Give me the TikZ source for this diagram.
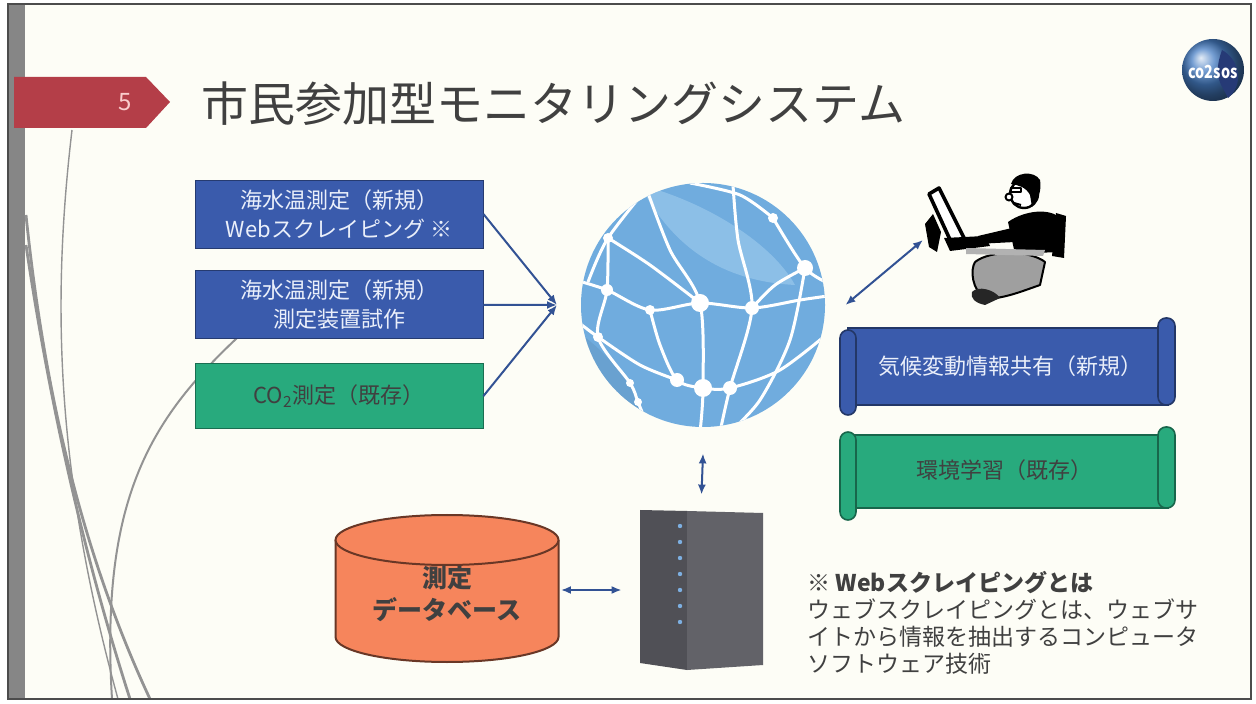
\documentclass[tikz,border=0pt]{standalone}
\usepackage{fontspec}
\setmainfont{Noto Sans CJK JP}
\usepackage{xcolor}
\usepackage{tikz}
\usetikzlibrary{arrows.meta, positioning, calc}

\definecolor{boxblue}{RGB}{58,91,172}
\definecolor{boxgreen}{RGB}{40,170,125}
\definecolor{tabred}{RGB}{180,62,72}
\definecolor{numpink}{RGB}{250,205,205}
\definecolor{inkgray}{RGB}{64,64,64}
\definecolor{paletext}{RGB}{234,239,250}
\definecolor{linknavy}{RGB}{50,82,148}
\definecolor{dbfill}{RGB}{246,133,92}
\definecolor{dbline}{RGB}{105,55,38}
\definecolor{globefill}{RGB}{112,172,222}
\definecolor{globelight}{RGB}{160,205,238}
\definecolor{logoblue}{RGB}{70,125,195}
\definecolor{landnavy}{RGB}{38,58,118}
\definecolor{ledblue}{RGB}{125,175,225}
\definecolor{paper}{RGB}{253,253,246}
\definecolor{srvfront}{RGB}{80,80,86}
\definecolor{srvside}{RGB}{98,98,104}

\begin{document}
\begin{tikzpicture}[
        x=0.5pt, y=-0.5pt,
        srcbox/.style={rectangle, draw=#1!65!black, fill=#1, minimum width=144pt, minimum height=34pt, inner sep=0pt, align=center, font=\fontsize{11}{14.5}\selectfont},
        link/.style={-{Latex[length=5pt, width=4pt]}, linknavy, line width=1pt},
        duplex/.style={{Latex[length=5pt, width=4pt]}-{Latex[length=5pt, width=4pt]}, linknavy, line width=1pt},
        scroll/.style={fill=#1, draw=#1!60!black, line width=0.8pt},
        deco/.style={draw=gray!85, line width=1.4pt},
        mesh/.style={white, line width=1.5pt}
    ]

    % Page
    \fill[white] (0,0) rectangle (1256,704);
    \useasboundingbox (0,0) rectangle (1256,704);
    \fill[paper] (8,4) rectangle (1251,699);
    \fill[gray!95] (8,4) rectangle (25,699);
    \draw[deco] (26,215) .. controls (45,400) and (85,560) .. (150,699);
    \draw[deco] (26,245) .. controls (55,440) and (95,590) .. (130,699);
    \draw[deco, line width=0.7pt] (72,130) .. controls (52,300) and (55,470) .. (118,699);
    \draw[deco, line width=1pt] (237,338) .. controls (150,420) and (100,500) .. (112,699);
    \draw[black!70, line width=1.2pt] (8,4) rectangle (1251,699);

    % Header
    \fill[tabred] (14,77) -- (146,77) -- (170,102) -- (146,128) -- (14,128) -- cycle;
    \node[text=numpink, font=\fontsize{12}{12}\selectfont] (num) at (125,102) {5};
    \node[anchor=west, inner sep=0pt, text=inkgray, font=\fontsize{23.5}{26}\selectfont] (title) at (201,104) {市民参加型モニタリングシステム};
    \shade[ball color=logoblue] (1213,70) circle[radius=31];
    \fill[landnavy] (1222,50) .. controls (1240,60) and (1244,85) .. (1228,98) .. controls (1222,85) and (1212,78) .. (1222,50);
    \node[text=white, font=\fontsize{9}{9}\selectfont\bfseries] (logo) at (1213,72) {\scalebox{0.8}[1]{co2sos}};

    % Sources
    \node[srcbox=boxblue, text=paletext] (sst) at (339,214) {海水温測定（新規）\\Webスクレイピング ※};
    \node[srcbox=boxblue, text=paletext, below=11pt of sst] (sdev) {海水温測定（新規）\\測定装置試作};
    \node[srcbox=boxgreen, text=inkgray, minimum height=32.5pt, below=12pt of sdev] (co2) {CO\textsubscript{2}測定（既存）};
    \coordinate (hub) at (557,305);

    % Network globe
    \node[circle, fill=globefill, minimum size=122pt, inner sep=0pt] (net) at (703,305) {};
    \begin{scope}
        \clip (703,305) circle[radius=122];
        \fill[globelight, opacity=0.6] (640,185) .. controls (700,200) and (770,240) .. (795,285) .. controls (740,282) and (680,262) .. (640,185);
        \fill[globefill!80!black, opacity=0.3] (575,330) .. controls (620,360) and (660,420) .. (640,440) -- (560,440) -- cycle;
        \draw[mesh] plot[smooth] coordinates {(575,280) (607,290) (650,310) (700,303) (752,308) (800,300) (835,295)};
        \draw[mesh] plot[smooth] coordinates {(608,238) (650,265) (700,303)};
        \draw[mesh] plot[smooth] coordinates {(652,182) (608,238) (588,282)};
        \draw[mesh] plot[smooth] coordinates {(647,190) (670,250) (700,303) (703,388) (700,432)};
        \draw[mesh] plot[smooth] coordinates {(733,185) (738,240) (752,308) (730,388) (720,432)};
        \draw[mesh] plot[smooth] coordinates {(773,218) (805,268) (832,285)};
        \draw[mesh] plot[smooth] coordinates {(752,308) (775,285) (805,268)};
        \draw[mesh] plot[smooth] coordinates {(608,238) (607,290) (598,337) (630,383) (638,402) (650,432)};
        \draw[mesh] plot[smooth] coordinates {(650,310) (660,345) (677,380) (703,388) (730,388) (780,370) (832,330)};
        \draw[mesh] plot[smooth] coordinates {(578,322) (598,337) (640,365) (677,380)};
        \draw[mesh] plot[smooth] coordinates {(805,268) (790,340) (760,400) (730,432)};
        \draw[mesh] plot[smooth] coordinates {(690,183) (740,195) (773,218)};
    \end{scope}
    \foreach \px/\py/\r in {608/238/5, 773/218/5, 805/268/8, 607/290/6, 650/310/5, 700/303/9,
                            752/308/7, 598/337/5, 677/380/7, 703/388/9, 730/388/7, 630/383/4, 638/402/4}
        \fill[white] (\px,\py) circle[radius=\r];

    % User at the terminal
    \begin{scope}[line join=round]
        \fill[black] (925,224) -- (933,214) -- (941,232) -- (937,252) -- (929,247) -- cycle;
        \draw[black, fill=white, line width=1.8pt] (929,194) -- (939,188) -- (964,238) -- (952,244) -- cycle;
        \fill[black] (944,238) -- (985,236) -- (990,246) -- (950,251) -- cycle;
        \draw[black, fill=gray!75, line width=1pt] (975,262) .. controls (990,250) and (1030,250) .. (1045,262) -- (1040,285) .. controls (1020,292) and (1000,300) .. (985,298) .. controls (972,290) and (970,270) .. (975,262);
        \fill[black!85] (972,292) .. controls (978,285) and (995,290) .. (1000,298) -- (985,305) .. controls (975,303) and (970,298) .. (972,292);
        \fill[black] (1008,222) .. controls (1025,210) and (1050,208) .. (1060,218) -- (1058,252) -- (1015,254) -- cycle;
        \fill[black] (1012,228) -- (978,236) -- (976,244) -- (1015,242) -- cycle;
        \fill[black] (1056,213) -- (1066,216) -- (1064,258) -- (1052,256) -- cycle;
        \fill[gray!60] (966,248) -- (1045,250) -- (1043,256) -- (966,254) -- cycle;
        \draw[black, fill=white, line width=1.2pt] (1024,194) circle[radius=14];
        \fill[black] (1011,184) .. controls (1014,172) and (1034,170) .. (1040,180) .. controls (1042,190) and (1038,200) .. (1032,207) -- (1030,195) .. controls (1026,187) and (1018,185) .. (1011,184);
        \draw[black, line width=1pt] (1011,188) rectangle (1021,192);
        \draw[black, fill=white, line width=1pt] (1009,197) circle[radius=3.5];
        \draw[black, line width=1pt] (1014,203) -- (1021,205);
    \end{scope}
    \coordinate (user) at (923,240);

    % Services
    \draw[scroll=boxblue] (848,328) rectangle (1168,405);
    \draw[scroll=boxblue, rounded corners=4pt] (1158,405) |- (1175,318) -- (1175,405) -- cycle;
    \draw[scroll=boxblue, rounded corners=4pt] (840,330) rectangle (856,415);
    \node[text=paletext, font=\fontsize{11}{13}\selectfont] (share) at (1010,366) {気候変動情報共有（新規）};
    \draw[scroll=boxgreen] (848,435) rectangle (1168,508);
    \draw[scroll=boxgreen, rounded corners=4pt] (1158,508) |- (1175,427) -- (1175,508) -- cycle;
    \draw[scroll=boxgreen, rounded corners=4pt] (840,432) rectangle (856,520);
    \node[text=inkgray, font=\fontsize{11}{13}\selectfont] (learn) at (1004,470) {環境学習（既存）};

    % Storage
    \draw[dbline, fill=dbfill, line width=1pt] (335.5,540) -- (335.5,637) arc[start angle=180, end angle=0, x radius=111.5, y radius=25] -- (558.5,540);
    \draw[dbline, fill=dbfill, line width=1pt] (447,540) ellipse[x radius=111.5, y radius=25];
    \node[minimum width=111.5pt, minimum height=60pt, align=center, text=inkgray, font=\fontsize{12.5}{16}\selectfont\bfseries] (db) at (447,594) {測定\\データベース};

    \fill[srvfront] (640,510) -- (687,511) -- (687,670) -- (640,663) -- cycle;
    \fill[srvside] (687,511) -- (763,513) -- (763,665) -- (687,670) -- cycle;
    \foreach \k in {0,...,6}
        \fill[ledblue] (680,{526+16*\k}) circle[radius=2.2];
    \node[minimum width=61.5pt, minimum height=80pt] (srv) at (701.5,590) {};

    % Edges
    \draw[link] (sst.east) -- (hub);
    \draw[link] (sdev.east) -- (hub);
    \draw[link] (co2.east) -- (hub);
    \draw[duplex] ([xshift=10pt]net.east) -- (user);
    \draw[duplex] ([yshift=-13pt]net.south) -- ([yshift=7.5pt]srv.north);
    \draw[duplex] ($(db.east |- srv.west)+(1pt,0)$) -- ([xshift=-9pt]srv.west);

    % Footnote
    \node[anchor=north west, align=left, inner sep=0pt, text=inkgray, font=\fontsize{11.5}{13.5}\selectfont] (note) at (807,571) {\textbf{※ Webスクレイピングとは}\\ウェブスクレイピングとは、ウェブサ\\イトから情報を抽出するコンピュータ\\ソフトウェア技術};
\end{tikzpicture}
\end{document}
